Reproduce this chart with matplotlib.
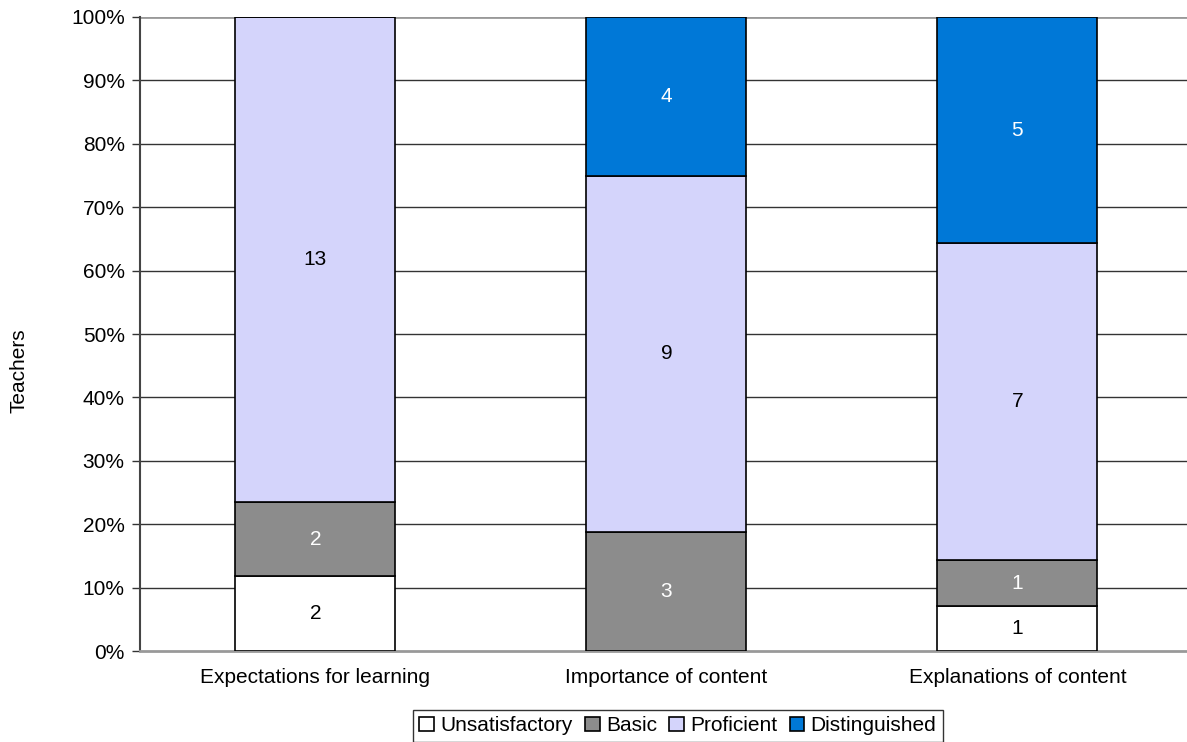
import matplotlib.pyplot as plt
import numpy as np

plt.rcParams['font.family'] = ['Liberation Sans', 'DejaVu Sans']

categories = ['Expectations for learning', 'Importance of content', 'Explanations of content']
levels = ['Unsatisfactory', 'Basic', 'Proficient', 'Distinguished']
unsatisfactory = [2, 0, 1]
basic = [2, 3, 1]
proficient = [13, 9, 7]
distinguished = [0, 4, 5]

colors = ['#ffffff', '#8c8c8c', '#d4d4fb', '#0078d7']
text_colors = ['black', 'white', 'black', 'white']

counts = np.array([unsatisfactory, basic, proficient, distinguished], dtype=float)
totals = counts.sum(axis=0)
shares = counts / totals * 100

fig = plt.figure(figsize=(11.87, 7.42), dpi=100)
ax = fig.add_axes([0.1179, 0.1226, 0.8871, 0.8545])

x = np.arange(len(categories))
bottom = np.zeros(len(categories))
handles = []
for i, name in enumerate(levels):
    bars = ax.bar(x, shares[i], 0.456, bottom=bottom, color=colors[i],
                  edgecolor='black', linewidth=1.2, label=name, zorder=3)
    handles.append(bars)
    for j in range(len(categories)):
        if counts[i, j] > 0:
            ax.text(x[j], bottom[j] + shares[i, j] / 2, '%d' % counts[i, j],
                    ha='center', va='center', fontsize=15, color=text_colors[i], zorder=4)
    bottom += shares[i]

ax.set_xlim(-0.5, 2.5)
ax.set_ylim(0, 100)
ax.set_yticks(np.arange(0, 101, 10))
ax.set_yticklabels(['%d%%' % v for v in range(0, 101, 10)])
ax.set_xticks(x)
ax.set_xticklabels(categories)
ax.tick_params(axis='both', labelsize=15, colors='black')
ax.tick_params(axis='y', length=6, width=1, color='#333333', pad=5)
ax.tick_params(axis='x', length=0, pad=12)

for v in range(10, 100, 10):
    ax.axhline(v, color='#333333', linewidth=1, zorder=1)
ax.axhline(100, color='#999999', linewidth=2, zorder=1)

ax.spines['top'].set_visible(False)
ax.spines['right'].set_visible(False)
ax.spines['left'].set_color('#444444')
ax.spines['left'].set_linewidth(1.5)
ax.spines['bottom'].set_color('#999999')
ax.spines['bottom'].set_linewidth(2)

fig.text(0.008, 0.5, 'Teachers', rotation=90, ha='left', va='center', fontsize=15)

leg = fig.legend(handles=handles, labels=levels, loc='upper center',
                 bbox_to_anchor=(0.571, 0.043), ncol=4, fontsize=15,
                 frameon=True, fancybox=False, edgecolor='black',
                 handlelength=0.7, handleheight=0.7, handletextpad=0.3,
                 columnspacing=0.6, borderpad=0.3, borderaxespad=0)
leg.get_frame().set_linewidth(1)

fig.savefig('out.png', dpi=100)
